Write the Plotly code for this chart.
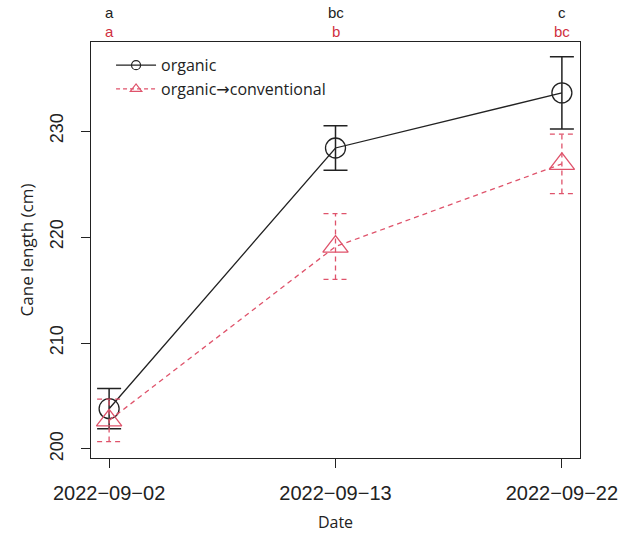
import plotly.graph_objects as go

# Sampling dates and group means with standard errors (cm)
dates = ["2022-09-02", "2022-09-13", "2022-09-22"]
organic_mean = [203.8, 228.4, 233.6]
organic_se = [1.9, 2.1, 3.4]
conv_mean = [202.7, 219.1, 226.9]
conv_se = [2.0, 3.1, 2.8]
letters_organic = ["a", "bc", "c"]
letters_conv = ["a", "b", "bc"]

BLACK = "#222222"
RED = "#DF536B"
LETTER_RED = "#D0303F"
TICK_FONT = "Liberation Sans, Arial, sans-serif"
TEXT_FONT = "Open Sans, Noto Sans, sans-serif"

x = [i + 1 for i in range(len(dates))]
tick_text = [d.replace("-", "\u2212") for d in dates]

fig = go.Figure()

# organic: solid line, open circles, solid error bars
fig.add_trace(go.Scatter(
    x=x, y=organic_mean, mode="lines+markers", showlegend=False,
    line=dict(color=BLACK, width=1.3),
    marker=dict(symbol="circle-open", size=20, color=BLACK, line=dict(width=1.3)),
    error_y=dict(type="data", array=organic_se, color=BLACK, thickness=1.5, width=12),
))

# organic->conventional: dashed line, open triangles
fig.add_trace(go.Scatter(
    x=x, y=conv_mean, mode="lines+markers", showlegend=False,
    line=dict(color=RED, width=1.3, dash="5px,4px"),
    marker=dict(symbol="triangle-up-open", size=22, color=RED, line=dict(width=1.3)),
))

# dashed error bars for the conventional series
cap = 0.053
ex, ey = [], []
for xi, m, s in zip(x, conv_mean, conv_se):
    ex += [xi, xi, None, xi - cap, xi + cap, None, xi - cap, xi + cap, None]
    ey += [m - s, m + s, None, m + s, m + s, None, m - s, m - s, None]
fig.add_trace(go.Scatter(
    x=ex, y=ey, mode="lines", showlegend=False, hoverinfo="skip",
    line=dict(color=RED, width=1.3, dash="5px,4px"),
))

# legend entries with small symbols
fig.add_trace(go.Scatter(
    x=[None], y=[None], mode="lines+markers", name="organic",
    line=dict(color=BLACK, width=1.3),
    marker=dict(symbol="circle-open", size=9, color=BLACK, line=dict(width=1.2)),
))
fig.add_trace(go.Scatter(
    x=[None], y=[None], mode="lines+markers",
    name='organic<span style="font-family:DejaVu Sans">\u2192</span>conventional',
    line=dict(color=RED, width=1.3, dash="4px,3px"),
    marker=dict(symbol="triangle-up-open", size=10, color=RED, line=dict(width=1.2)),
))

# significance letters above each date (two rows)
for xi, lo, lc in zip(x, letters_organic, letters_conv):
    fig.add_annotation(x=xi, y=1.0, xref="x", yref="paper", yanchor="middle",
                       text=lo, showarrow=False, yshift=29.5, borderpad=0,
                       font=dict(size=15, color=BLACK, family=TICK_FONT))
    fig.add_annotation(x=xi, y=1.0, xref="x", yref="paper", yanchor="middle",
                       text=lc, showarrow=False, yshift=11, borderpad=0,
                       font=dict(size=15, color=LETTER_RED, family=TICK_FONT))

axis_common = dict(
    showline=True, mirror=True, linecolor=BLACK, linewidth=1.3,
    ticks="outside", ticklen=9, tickwidth=1.3, tickcolor=BLACK,
    showgrid=False, zeroline=False, automargin=False,
)

fig.update_layout(
    width=635, height=533,
    margin=dict(l=91, r=55, t=42, b=75),
    paper_bgcolor="white", plot_bgcolor="white",
    font=dict(family=TEXT_FONT, color=BLACK),
    xaxis=dict(
        range=[0.92, 3.08], tickvals=x, ticktext=tick_text,
        tickfont=dict(size=20, color=BLACK, family=TICK_FONT),
        ticklabelstandoff=8,
        title=dict(text="Date", font=dict(size=16, color=BLACK, family=TEXT_FONT), standoff=14),
        **axis_common,
    ),
    yaxis=dict(
        range=[199.15, 238.4], tickvals=[200, 210, 220, 230], tickangle=-90,
        tickfont=dict(size=18, color=BLACK, family=TICK_FONT),
        ticklabelstandoff=11,
        title=dict(text="Cane length (cm)", font=dict(size=17, color=BLACK, family=TEXT_FONT), standoff=8),
        **axis_common,
    ),
    legend=dict(
        x=0.041, y=0.985, xanchor="left", yanchor="top",
        bgcolor="rgba(0,0,0,0)", borderwidth=0,
        font=dict(size=16, color=BLACK, family=TEXT_FONT),
        tracegroupgap=2, itemwidth=40,
    ),
)

fig.write_html("out.html")
